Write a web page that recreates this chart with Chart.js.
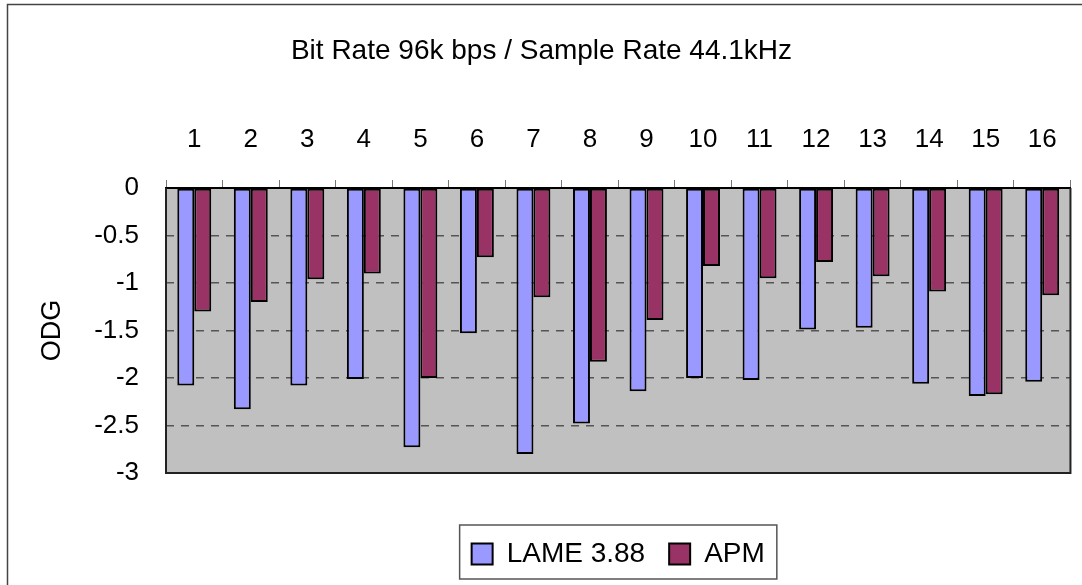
<!DOCTYPE html>
<html>
<head>
<meta charset="utf-8">
<script src="https://cdn.jsdelivr.net/npm/chart.js@4/dist/chart.umd.min.js"></script>
<style>
  html, body { margin: 0; padding: 0; background: #fff; overflow: hidden; }
  #wrap { width: 1082px; height: 585px; }
</style>
</head>
<body>
<div id="wrap"><canvas id="odg-chart" width="1082" height="585"></canvas></div>
<script>
const tracks = ['1', '2', '3', '4', '5', '6', '7', '8', '9', '10', '11', '12', '13', '14', '15', '16'];
const lameOdg = [-2.08, -2.33, -2.08, -2.01, -2.73, -1.53, -2.80, -2.48, -2.14, -2.00, -2.02, -1.49, -1.47, -2.06, -2.19, -2.04];
const apmOdg = [-1.30, -1.20, -0.96, -0.90, -2.00, -0.73, -1.15, -1.83, -1.39, -0.82, -0.95, -0.78, -0.93, -1.09, -2.17, -1.13];
const yTicks = [0, -0.5, -1, -1.5, -2, -2.5, -3];

const FONT = "'Liberation Sans', Arial, sans-serif";

// background, frame and legend box
const framePlugin = {
    id: 'frame',
    beforeDraw(chart) {
        const c = chart.ctx;
        const a = chart.chartArea;
        c.save();
        c.fillStyle = '#fff';
        c.fillRect(0, 0, chart.width, chart.height);
        c.strokeStyle = '#444';
        c.lineWidth = 1.5;
        c.strokeRect(7.5, 4.5, 1200, 800);
        c.fillStyle = '#c0c0c0';
        c.fillRect(a.left, a.top, a.right - a.left, a.bottom - a.top);
        c.restore();
    },
    afterLayout(chart) {
        const lg = chart.legend;
        const a = chart.chartArea;
        const dx = (a.left + a.right) / 2 - (lg.left + lg.right) / 2;
        lg.left += dx; lg.right += dx;
        const dy = 516 - lg.top;
        lg.top += dy; lg.bottom += dy;
        const t = chart.titleBlock;
        t.left += 6; t.right += 6;
    },
    afterDatasetsDraw(chart) {
        const c = chart.ctx;
        const a = chart.chartArea;
        c.save();
        c.strokeStyle = '#222';
        c.lineWidth = 2;
        c.beginPath();
        c.moveTo(a.left, a.top);
        c.lineTo(a.left, a.bottom);
        c.lineTo(a.right, a.bottom);
        c.lineTo(a.right, a.top);
        c.stroke();
        c.restore();
    },
    afterDraw(chart) {
        const boxes = chart.legend.legendHitBoxes;
        if (!boxes || !boxes.length) return;
        let minX = Infinity, maxX = -Infinity, top = boxes[0].top, h = boxes[0].height;
        boxes.forEach(b => {
            minX = Math.min(minX, b.left);
            maxX = Math.max(maxX, b.left + b.width);
        });
        const c = chart.ctx;
        c.save();
        c.strokeStyle = '#555';
        c.lineWidth = 1.5;
        c.strokeRect(minX - 12, top - 15, maxX - minX + 24, h + 26);
        c.restore();
    }
};

const ctx = document.getElementById('odg-chart').getContext('2d');

const odgChart = new Chart(ctx, {
    type: 'bar',
    data: {
        labels: tracks,
        datasets: [{
            label: 'LAME 3.88',
            data: lameOdg,
            backgroundColor: '#9999ff',
            borderColor: '#000',
            borderWidth: 2,
            borderSkipped: false
        }, {
            label: 'APM',
            data: apmOdg,
            backgroundColor: '#993366',
            borderColor: '#000',
            borderWidth: 2,
            borderSkipped: false
        }]
    },
    options: {
        responsive: false,
        animation: false,
        datasets: {
            bar: { categoryPercentage: 0.6, barPercentage: 1.0 }
        },
        layout: {
            padding: { left: 0, right: 11, top: 0, bottom: 50 }
        },
        plugins: {
            tooltip: { enabled: false },
            title: {
                display: true,
                text: 'Bit Rate 96k bps / Sample Rate 44.1kHz',
                color: '#000',
                font: { family: FONT, size: 28, weight: 'normal' },
                padding: { top: 34, bottom: 10 }
            },
            legend: {
                position: 'bottom',
                labels: {
                    color: '#000',
                    font: { family: FONT, size: 28 },
                    boxWidth: 21,
                    boxHeight: 21,
                    padding: 24
                }
            }
        },
        scales: {
            x: {
                position: 'top',
                afterFit(scale) { scale.height = 110.4; },
                grid: {
                    offset: true,
                    drawOnChartArea: false,
                    tickLength: 8,
                    color: '#777',
                    lineWidth: 1
                },
                border: { color: '#000', width: 2 },
                ticks: {
                    color: '#000',
                    font: { family: FONT, size: 26 },
                    padding: 25,
                    maxRotation: 0
                }
            },
            y: {
                min: -3,
                max: 0,
                afterFit(scale) { scale.width = 166; },
                afterBuildTicks(scale) {
                    scale.ticks = yTicks.map(v => ({ value: v }));
                },
                title: {
                    display: true,
                    text: 'ODG',
                    color: '#000',
                    font: { family: FONT, size: 27 },
                    padding: { top: 36, bottom: 0 }
                },
                grid: {
                    drawTicks: false,
                    lineWidth: 1.5,
                    color: c => (c.tick && (c.tick.value === 0 || c.tick.value === -3)) ? 'rgba(0,0,0,0)' : '#555'
                },
                border: { display: false, dash: [8, 7] },
                ticks: {
                    color: '#000',
                    font: { family: FONT, size: 26 },
                    padding: 27,
                    callback: v => String(v)
                }
            }
        }
    },
    plugins: [framePlugin]
});
</script>
</body>
</html>
